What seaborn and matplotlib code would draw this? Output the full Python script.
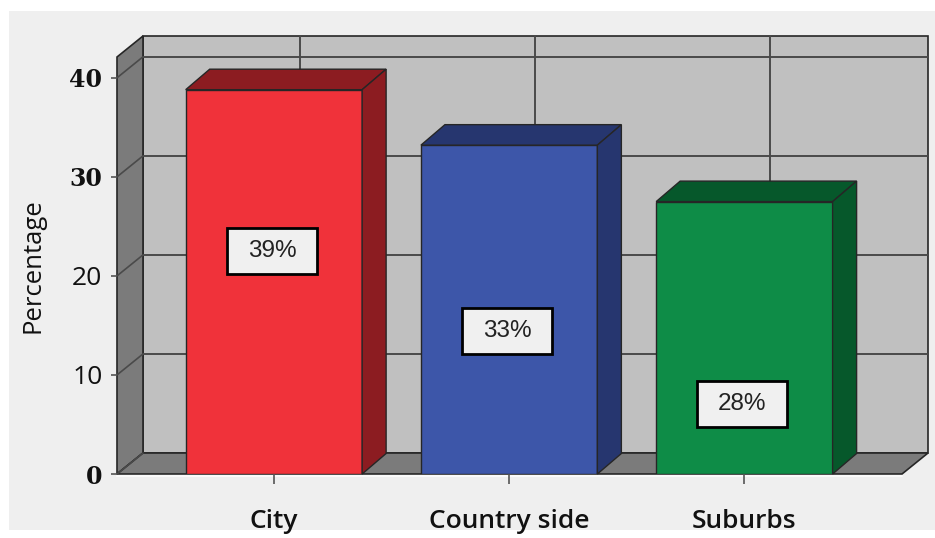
import matplotlib
matplotlib.use("Agg")
import matplotlib.pyplot as plt
from matplotlib.patches import Polygon, Rectangle
import seaborn as sns

# ---- data ----
categories = ["City", "Country side", "Suburbs"]
values = [38.8, 33.2, 27.5]
value_labels = ["39%", "33%", "28%"]
label_pos = [22.5, 14.4, 7.1]
yticks = [0, 10, 20, 30, 40]

# ---- styles ----
front_colors = ["#f0323a", "#3d56a9", "#0e8c47"]
dark_colors = ["#8c1c21", "#26366f", "#06582b"]
back_wall = "#c0c0c0"
side_wall = "#7b7b7b"
edge = "#262626"
grid_c = "#4a4a4a"

sns.set_theme(style="white")
plt.rcParams["font.family"] = ["DejaVu Sans"]

W, H = 935, 538
fig = plt.figure(figsize=(W / 100, H / 100), dpi=100, facecolor="white")
fig.patches.append(Rectangle((9 / W, (H - 530) / H), (W - 9) / W, (530 - 11) / H,
                             transform=fig.transFigure, facecolor="#efefef",
                             edgecolor="none", zorder=-10))

ax_left, ax_right = 117, 902
ax_top, ax_bot = 57, 474
ax = fig.add_axes([ax_left / W, (H - ax_bot) / H, (ax_right - ax_left) / W, (ax_bot - ax_top) / H])
ax.set_facecolor("none")

sns.barplot(x=categories, y=values, hue=categories, palette=front_colors, legend=False,
            width=0.75, saturation=1, edgecolor=edge, linewidth=1.0, ax=ax, zorder=3)
bars = list(ax.patches)

x0, x1 = -0.667, 2.670
ymax = 42.1
ax.set_xlim(x0, x1)
ax.set_ylim(0, ymax)

# depth offsets (data units)
px_x = (ax_right - ax_left) / (x1 - x0)
px_y = (ax_bot - ax_top) / ymax
wdx, wdy = 26 / px_x, 21 / px_y
bdx, bdy = 24 / px_x, 20.5 / px_y

# walls
ax.add_patch(Rectangle((x0 + wdx, wdy), x1 - x0, ymax, facecolor=back_wall,
                       edgecolor=edge, linewidth=1.2, zorder=0.1, clip_on=False))
ax.add_patch(Polygon([(x0, 0), (x0 + wdx, wdy), (x0 + wdx, ymax + wdy), (x0, ymax)],
                     closed=True, facecolor=side_wall, edgecolor=edge, linewidth=1.2,
                     zorder=0.2, clip_on=False))
ax.add_patch(Polygon([(x0, 0), (x1, 0), (x1 + wdx, wdy), (x0 + wdx, wdy)],
                     closed=True, facecolor=side_wall, edgecolor=edge, linewidth=1.2,
                     zorder=0.2, clip_on=False))
# light highlight below floor
ax.plot([x0, x1], [-0.25, -0.25], color="#fafafa", lw=1.5, zorder=0.3, clip_on=False)

# grid lines
for t in yticks:
    if t > 0:
        ax.plot([x0 + wdx, x1 + wdx], [t + wdy, t + wdy], color=grid_c, lw=1.4,
                zorder=0.5, clip_on=False, solid_capstyle="butt")
    ax.plot([x0, x0 + wdx], [t, t + wdy], color=grid_c, lw=1.2, zorder=0.5, clip_on=False)
for i in range(len(categories)):
    ax.plot([i + wdx, i + wdx], [wdy, ymax + wdy], color=grid_c, lw=1.4, zorder=0.5,
            clip_on=False)

# 3D bar faces
for b, dc in zip(bars, dark_colors):
    xl = b.get_x()
    xr = xl + b.get_width()
    h = b.get_height()
    ax.add_patch(Polygon([(xl, h), (xr, h), (xr + bdx, h + bdy), (xl + bdx, h + bdy)],
                         closed=True, facecolor=dc, edgecolor=edge, linewidth=1.0,
                         zorder=3, clip_on=False))
    ax.add_patch(Polygon([(xr, 0), (xr + bdx, bdy), (xr + bdx, h + bdy), (xr, h)],
                         closed=True, facecolor=dc, edgecolor=edge, linewidth=1.0,
                         zorder=3, clip_on=False))

# value label boxes
bw, bh = 90 / px_x, 46 / px_y
for i, (lab, yp) in enumerate(zip(value_labels, label_pos)):
    cx = i - 2 / px_x
    ax.add_patch(Rectangle((cx - bw / 2, yp - bh / 2), bw, bh, facecolor="#f0f0f0",
                           edgecolor="black", linewidth=2.0, zorder=5))
    ax.text(cx, yp, lab, ha="center", va="center", fontsize=17.5,
            family=["Liberation Sans"], color="#222222", zorder=6)

# axes styling
for s in ax.spines.values():
    s.set_visible(False)
ax.set_yticks(yticks)
ax.set_yticklabels([str(t) for t in yticks])
ax.tick_params(axis="y", left=True, length=4, width=1.2, color="#555555", pad=6.5,
               labelsize=17, labelcolor="#111111")
ax.tick_params(axis="x", bottom=True, length=7, width=1.2, color="#555555", pad=18.5,
               labelsize=19, labelcolor="#111111")
serif_ticks = {0, 30, 40}
for t, lab in zip(yticks, ax.get_yticklabels()):
    if t in serif_ticks:
        lab.set_fontfamily(["DejaVu Serif"])
        lab.set_fontweight("bold")
    else:
        lab.set_fontfamily(["Open Sans"])
        lab.set_fontsize(19)
for lab in ax.get_xticklabels():
    lab.set_fontfamily(["Open Sans"])
    lab.set_fontweight("semibold")

ax.set_xlabel("")
ax.set_ylabel("Percentage", fontsize=18.5, family=["Open Sans"], color="#111111")
ax.yaxis.set_label_coords((46 - ax_left) / (ax_right - ax_left), 0.5)

fig.savefig("out.png", dpi=100, facecolor="white")
